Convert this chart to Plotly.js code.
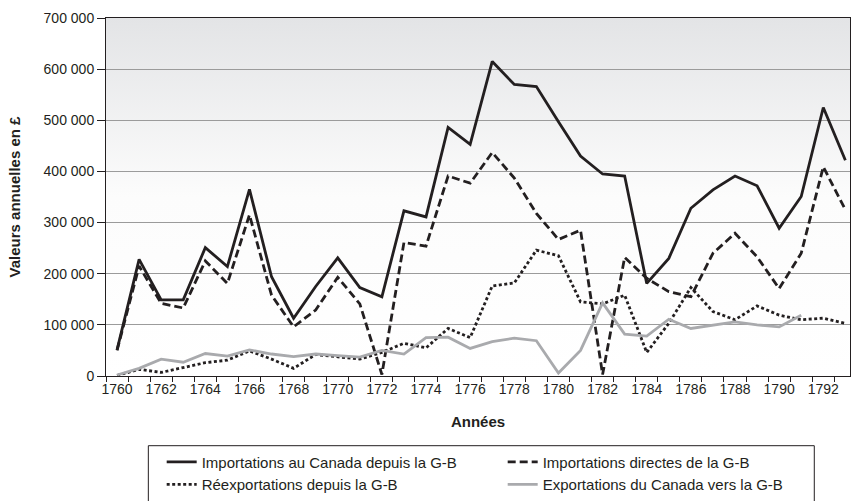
<!DOCTYPE html>
<html>
<head>
<meta charset="utf-8">
<script src="https://cdn.plot.ly/plotly-3.0.1.min.js"></script>
<style>
  html, body { margin: 0; padding: 0; background: #ffffff; }
  #chart { width: 851px; height: 501px; }
</style>
</head>
<body>
<div id="chart"></div>
<script>
// ---- Data (values in £) ----
const years = ['1760','1761','1762','1763','1764','1765','1766','1767','1768','1769',
               '1770','1771','1772','1773','1774','1775','1776','1777','1778','1779',
               '1780','1781','1782','1783','1784','1785','1786','1787','1788','1789',
               '1790','1791','1792','1793'];

const xTickLabels = ['1760','','1762','','1764','','1766','','1768','',
                     '1770','','1772','','1774','','1776','','1778','',
                     '1780','','1782','','1784','','1786','','1788','',
                     '1790','','1792',''];

const importationsCanada = [51000, 228000, 149000, 149000, 251000, 214000, 365000, 194000, 113000, 175000,
                            231000, 173000, 155000, 323000, 311000, 486000, 453000, 615000, 570000, 566000,
                            497000, 430000, 395000, 391000, 181000, 230000, 328000, 364000, 391000, 372000,
                            289000, 351000, 525000, 422000];

const importationsDirectes = [50000, 215000, 142000, 133000, 225000, 181000, 315000, 158000, 96000, 129000,
                              193000, 141000, 3000, 261000, 254000, 391000, 377000, 437000, 387000, 318000,
                              267000, 285000, 3000, 232000, 191000, 165000, 155000, 240000, 279000, 233000,
                              171000, 240000, 409000, 325000];

const reexportations = [1000, 13000, 7000, 16000, 26000, 31000, 49000, 33000, 15000, 42000,
                        37000, 33000, 46000, 64000, 55000, 93000, 75000, 176000, 182000, 246000,
                        235000, 145000, 141000, 158000, 46000, 103000, 173000, 126000, 110000, 137000,
                        119000, 110000, 113000, 103000];

const exportationsCanada = [2000, 15000, 33000, 27000, 44000, 39000, 51000, 43000, 38000, 43000,
                            40000, 37000, 50000, 43000, 75000, 76000, 54000, 67000, 74000, 69000,
                            6000, 50000, 143000, 82000, 78000, 111000, 93000, 100000, 106000, 100000,
                            96000, 119000, null, null];

const seriesNames = ['Importations au Canada depuis la G-B',
                     'Importations directes de la G-B',
                     'Réexportations depuis la G-B',
                     'Exportations du Canada vers la G-B'];

// ---- Styles ----
const FONT = 'Liberation Sans, Arial, Helvetica, sans-serif';
const INK = '#231f20';

const traces = [
  { x: years, y: importationsCanada, name: seriesNames[0], type: 'scatter', mode: 'lines',
    line: { color: INK, width: 2.8 } },
  { x: years, y: importationsDirectes, name: seriesNames[1], type: 'scatter', mode: 'lines',
    line: { color: INK, width: 2.8, dash: '8px,4px' } },
  { x: years, y: reexportations, name: seriesNames[2], type: 'scatter', mode: 'lines',
    line: { color: INK, width: 2.8, dash: '3px,2.5px' } },
  { x: years, y: exportationsCanada, name: seriesNames[3], type: 'scatter', mode: 'lines',
    line: { color: '#a9aaad', width: 2.8 }, connectgaps: false }
];

const gradSvg = "<svg xmlns='http://www.w3.org/2000/svg' width='100' height='100' preserveAspectRatio='none'>" +
  "<defs><linearGradient id='g' x1='0' y1='0' x2='0' y2='1'>" +
  "<stop offset='0' stop-color='#e3e4e6'/><stop offset='0.5' stop-color='#fcfcfc'/><stop offset='1' stop-color='#ffffff'/>" +
  "</linearGradient></defs><rect x='0' y='0' width='100' height='100' fill='url(#g)'/></svg>";

const layout = {
  width: 851, height: 501,
  margin: { l: 106, r: 1, t: 18, b: 125, autoexpand: false },
  paper_bgcolor: '#ffffff',
  plot_bgcolor: 'rgba(0,0,0,0)',
  separators: ', ',
  font: { family: FONT, size: 14, color: INK },
  showlegend: true,
  images: [{
    source: 'data:image/svg+xml;charset=utf-8,' + encodeURIComponent(gradSvg),
    xref: 'paper', yref: 'paper', x: 0, y: 1, sizex: 1, sizey: 1,
    xanchor: 'left', yanchor: 'top', sizing: 'stretch', layer: 'below'
  }],
  // legend frame, drawn as a layout decoration
  shapes: [{
    type: 'rect', xref: 'paper', yref: 'paper',
    x0: 0.0569, x1: 0.952, y0: -0.1947, y1: -0.36,
    line: { color: INK, width: 1 }, fillcolor: 'rgba(0,0,0,0)', layer: 'above'
  }],
  xaxis: {
    type: 'category',
    range: [-0.5, 33.21],
    tickmode: 'array', tickvals: years, ticktext: xTickLabels,
    tickson: 'boundaries', tickangle: 0,
    ticks: 'outside', ticklen: 5, tickcolor: INK, tickwidth: 1,
    tickfont: { family: FONT, size: 14, color: INK },
    showgrid: false, zeroline: false,
    showline: true, mirror: true, linecolor: INK, linewidth: 1,
    title: { text: '<b>Années</b>', font: { family: FONT, size: 15, color: INK }, standoff: 20 }
  },
  yaxis: {
    range: [0, 700000], dtick: 100000, tick0: 0,
    tickformat: ',d',
    ticks: 'outside', ticklen: 8, tickcolor: INK, tickwidth: 1,
    tickfont: { family: FONT, size: 14, color: INK },
    showgrid: true, gridcolor: '#9b9b9b', gridwidth: 1,
    zeroline: false,
    showline: true, mirror: true, linecolor: INK, linewidth: 1,
    title: { text: '<b>Valeurs annuelles en £</b>', font: { family: FONT, size: 15, color: INK }, standoff: 19 }
  },
  legend: {
    orientation: 'h',
    xref: 'container', yref: 'container',
    x: 0.190, y: 0.1104, xanchor: 'left', yanchor: 'top',
    bordercolor: 'rgba(0,0,0,0)', borderwidth: 0, bgcolor: 'rgba(0,0,0,0)',
    font: { family: FONT, size: 15, color: INK },
    entrywidth: 296, entrywidthmode: 'pixels',
    itemwidth: 30, traceorder: 'normal'
  }
};

Plotly.newPlot('chart', traces, layout, { displayModeBar: false, staticPlot: true });
</script>
</body>
</html>
